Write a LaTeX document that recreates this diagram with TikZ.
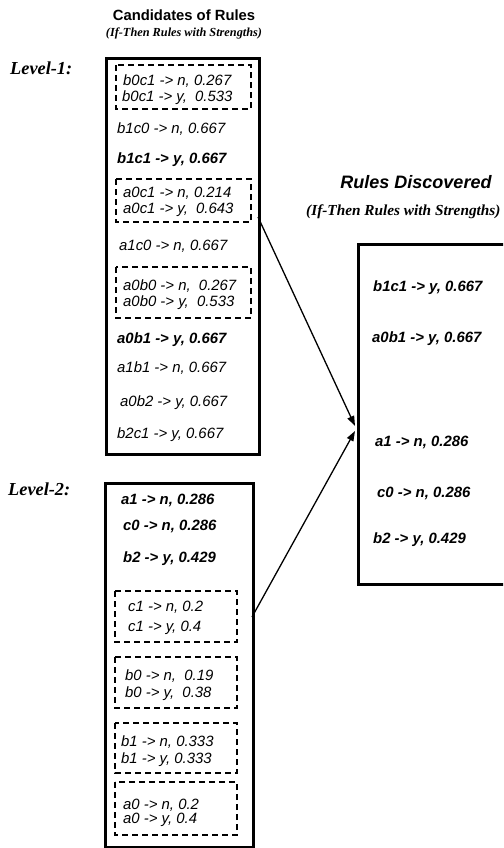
\documentclass[tikz,border=0pt]{standalone}
\usepackage{fontspec}
\setmainfont{Liberation Serif}
\setsansfont{Liberation Sans}
\usetikzlibrary{arrows.meta}

\begin{document}
\begin{tikzpicture}[x=1pt,y=-1pt,
  rule/.style={anchor=west, inner sep=0pt, font=\sffamily\itshape\fontsize{14.9}{17}\selectfont},
  strong/.style={rule, font=\sffamily\bfseries\itshape\fontsize{14.9}{17}\selectfont},
  panel/.style={draw, line width=3pt, anchor=north west, inner sep=0pt},
  grp/.style={draw, line width=1.4pt, dash pattern=on 6pt off 4pt},
  link/.style={line width=1.3pt, -{Triangle[length=10pt,width=7pt]}},
  level/.style={anchor=west, inner sep=0pt, font=\rmfamily\bfseries\itshape\fontsize{18.3}{20}\selectfont},
  sub/.style={inner sep=0pt, font=\rmfamily\bfseries\itshape},
]
\useasboundingbox (0,0) rectangle (503,848);
\clip (0,0) rectangle (503,848);

% headings
\node[inner sep=0pt, font=\sffamily\bfseries\fontsize{14.8}{17}\selectfont] (candtitle) at (184,15) {Candidates of Rules};
\node[sub, font=\rmfamily\bfseries\itshape\fontsize{12.3}{14}\selectfont] (candsub) at (184,33) {(If-Then Rules with Strengths)};
\node[inner sep=0pt, font=\sffamily\bfseries\itshape\fontsize{18}{20}\selectfont] (foundtitle) at (416,182) {Rules Discovered};
\node[sub, anchor=west, font=\rmfamily\bfseries\itshape\fontsize{15.3}{18}\selectfont] (foundsub) at (306,212) {(If-Then Rules with Strengths)};

\node[level] (lev1) at (10,68) {Level-1:};
\node[level] (lev2) at (8,489) {Level-2:};

% panels
\node[panel, minimum width=153pt, minimum height=396pt] (cand1) at (105,57) {};
\node[panel, minimum width=148pt, minimum height=364pt] (cand2) at (104,482) {};
\node[panel, minimum width=170pt, minimum height=340pt] (found) at (357,243) {};

% level-1 candidates
\draw[grp] (116,65) rectangle (251,109);
\node[rule] (r1a) at (123,81) {b0c1 -> n, 0.267};
\node[rule] (r1b) at (122,98) {b0c1 -> y,~ 0.533};
\node[rule] (r2) at (117,129) {b1c0 -> n, 0.667};
\node[strong] (r3) at (117,160) {b1c1 -> y, 0.667};
\draw[grp] (116,179) rectangle (251,222);
\node[rule] (r4a) at (123,193) {a0c1 -> n, 0.214};
\node[rule] (r4b) at (123,210) {a0c1 -> y,~ 0.643};
\node[rule] (r5) at (119,246) {a1c0 -> n, 0.667};
\draw[grp] (116,267) rectangle (251,318);
\node[rule] (r6a) at (123,286) {a0b0 -> n,~ 0.267};
\node[rule] (r6b) at (123,303) {a0b0 -> y,~ 0.533};
\node[strong] (r7) at (117,340) {a0b1 -> y, 0.667};
\node[rule] (r8) at (117,368) {a1b1 -> n, 0.667};
\node[rule] (r9) at (120,403) {a0b2 -> y, 0.667};
\node[rule] (r10) at (117,435) {b2c1 -> y, 0.667};

% level-2 candidates
\node[strong] (q1) at (121,500) {a1 -> n, 0.286};
\node[strong] (q2) at (123,526) {c0 -> n, 0.286};
\node[strong] (q3) at (123,559) {b2 -> y, 0.429};
\draw[grp] (115,591) rectangle (237,642);
\node[rule] (q4a) at (128,607) {c1 -> n, 0.2};
\node[rule] (q4b) at (128,628) {c1 -> y, 0.4};
\draw[grp] (115,657) rectangle (237,708);
\node[rule] (q5a) at (125,676) {b0 -> n,~ 0.19};
\node[rule] (q5b) at (125,694) {b0 -> y,~ 0.38};
\draw[grp] (115,723) rectangle (237,773);
\node[rule] (q6a) at (121,742) {b1 -> n, 0.333};
\node[rule] (q6b) at (121,760) {b1 -> y, 0.333};
\draw[grp] (115,782) rectangle (237,835);
\node[rule] (q7a) at (123,805) {a0 -> n, 0.2};
\node[rule] (q7b) at (123,820) {a0 -> y, 0.4};

% discovered rules
\node[strong] (d1) at (373,288) {b1c1 -> y, 0.667};
\node[strong] (d2) at (372,339) {a0b1 -> y, 0.667};
\node[strong] (d3) at (375,442) {a1 -> n, 0.286};
\node[strong] (d4) at (377,493) {c0 -> n, 0.286};
\node[strong] (d5) at (373,540) {b2 -> y, 0.429};

% connectors
\coordinate (out1) at (258,217);
\coordinate (out2) at (252,617);
\coordinate (in1) at (355,426);
\coordinate (in2) at (355,431);
\draw[link] (out1) -- (in1);
\draw[link] (out2) -- (in2);
\end{tikzpicture}
\end{document}
